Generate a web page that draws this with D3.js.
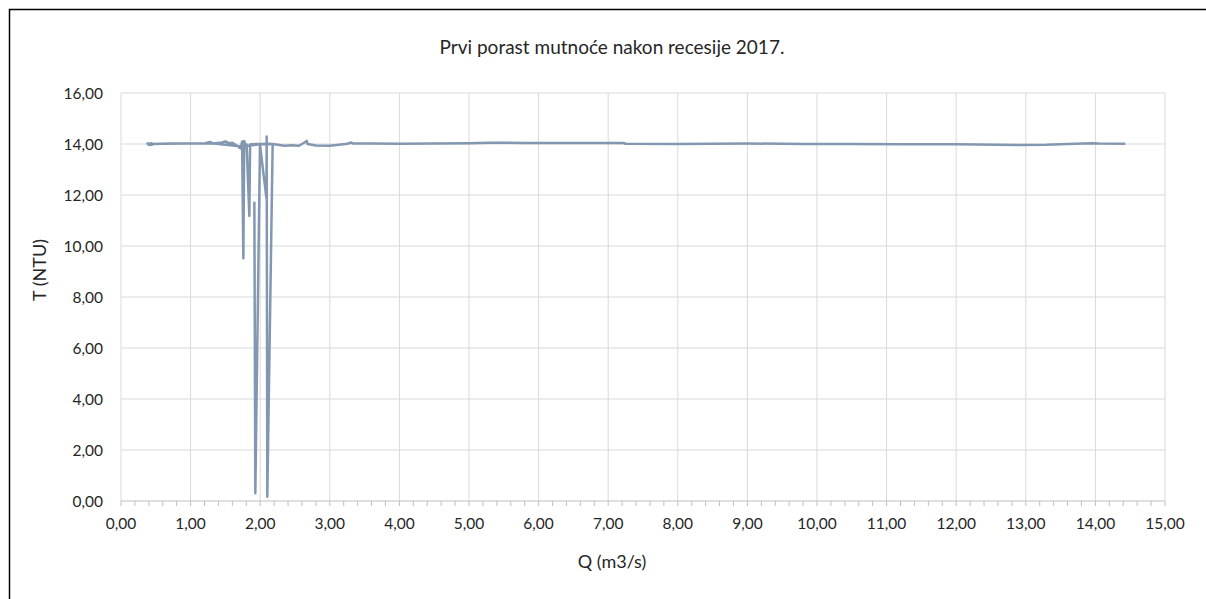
<!DOCTYPE html>
<html>
<head>
<meta charset="utf-8">
<script src="https://cdn.jsdelivr.net/npm/d3@7"></script>
<style>
  body { margin: 0; background: #fff; }
  text { font-family: Lato, "Open Sans", sans-serif; fill: #262626; }
</style>
</head>
<body>
<script>
// Q (m3/s) and T (NTU), in drawing order
var qValues = [1.916, 1.930, 1.997, 2.090, 2.093, 2.102, 2.179, 2.150, 1.950, 1.870, 1.855, 1.844, 1.805,
  1.790, 1.770, 1.758, 1.740, 1.720, 1.700, 1.680, 1.650, 1.600, 1.550, 1.500, 1.450, 1.320, 1.280,
  1.200, 0.900, 0.600, 0.470, 0.420, 0.440, 0.400, 0.380, 0.450, 0.700, 1.000, 1.300, 1.600, 1.750,
  2.000, 2.180, 2.250, 2.350, 2.450, 2.550, 2.600, 2.670, 2.680, 2.800, 3.000, 3.100, 3.250, 3.310,
  3.330, 3.600, 4.000, 4.500, 5.000, 5.300, 5.800, 6.500, 7.220, 7.250, 8.000, 9.000, 9.800, 10.500,
  11.200, 12.000, 12.900, 13.300, 13.600, 13.950, 14.050, 14.430];
var tValues = [11.74, 0.30, 13.96, 11.87, 14.29, 0.17, 13.98, 14.00, 14.00, 13.99, 13.98, 11.18, 13.98,
  13.95, 14.12, 9.52, 14.10, 13.82, 13.86, 13.92, 13.96, 14.05, 14.03, 14.10, 14.06, 14.02, 14.08,
  14.02, 14.02, 14.01, 14.00, 13.96, 14.03, 13.97, 14.02, 14.00, 14.02, 14.02, 14.03, 13.94, 13.90,
  13.99, 14.00, 13.97, 13.93, 13.95, 13.93, 14.00, 14.12, 14.00, 13.94, 13.93, 13.96, 14.01, 14.06,
  14.02, 14.02, 14.01, 14.02, 14.03, 14.05, 14.04, 14.04, 14.04, 14.01, 14.00, 14.02, 14.00, 14.00,
  13.99, 13.99, 13.96, 13.97, 14.00, 14.03, 14.02, 14.01];

var xTicks = d3.range(0, 16, 1);
var yTicks = d3.range(0, 18, 2);
var title = "Prvi porast mutnoće nakon recesije 2017.";
var xTitle = "Q (m3/s)";
var yTitle = "T (NTU)";

var points = qValues.map(function (q, i) { return { q: q, t: tValues[i] }; });

var W = 1206, H = 599;
var margin = { top: 93, right: 41, bottom: 98, left: 121 },
    width = W - margin.left - margin.right,
    height = H - margin.top - margin.bottom;

var fmt = function (d) { return d3.format(".2f")(d).replace(".", ","); };

var svg = d3.select("body").append("svg")
    .attr("width", W)
    .attr("height", H);

svg.append("rect")
    .attr("x", 9.5).attr("y", 9.5)
    .attr("width", W + 20).attr("height", H + 20)
    .attr("fill", "#fff")
    .attr("stroke", "#000")
    .attr("stroke-width", 1.5);

var g = svg.append("g")
    .attr("transform", "translate(" + margin.left + "," + margin.top + ")");

var x = d3.scaleLinear().domain([0, 15]).range([0, width]);
var y = d3.scaleLinear().domain([0, 16]).range([height, 0]);

// grid
g.append("g").selectAll("line")
    .data(xTicks.slice(1))
    .enter().append("line")
    .attr("x1", function (d) { return x(d); })
    .attr("x2", function (d) { return x(d); })
    .attr("y1", 0).attr("y2", height)
    .attr("stroke", "#d9d9d9");

g.append("g").selectAll("line")
    .data(yTicks.slice(1))
    .enter().append("line")
    .attr("x1", 0).attr("x2", width)
    .attr("y1", function (d) { return y(d); })
    .attr("y2", function (d) { return y(d); })
    .attr("stroke", "#d9d9d9");

// y axis line (light)
g.append("line")
    .attr("x1", 0).attr("x2", 0)
    .attr("y1", 0).attr("y2", height)
    .attr("stroke", "#d9d9d9");

// x axis with minor ticks
var xAxis = g.append("g")
    .attr("transform", "translate(0," + height + ")");

xAxis.append("line")
    .attr("x1", 0).attr("x2", width)
    .attr("stroke", "#bfbfbf");

xAxis.selectAll(".minor")
    .data(d3.range(0, 75.5, 1).map(function (d) { return d / 5; }))
    .enter().append("line")
    .attr("class", "minor")
    .attr("x1", function (d) { return x(d); })
    .attr("x2", function (d) { return x(d); })
    .attr("y1", 0).attr("y2", 5)
    .attr("stroke", "#bfbfbf");

xAxis.selectAll(".lab")
    .data(xTicks)
    .enter().append("text")
    .attr("class", "lab")
    .attr("x", function (d) { return x(d); })
    .attr("y", 28)
    .attr("text-anchor", "middle")
    .style("font-size", "15.5px")
    .text(fmt);

g.append("g").selectAll("text")
    .data(yTicks)
    .enter().append("text")
    .attr("x", -18)
    .attr("y", function (d) { return y(d) + 5.5; })
    .attr("text-anchor", "end")
    .style("font-size", "15.5px")
    .text(fmt);

// series
var line = d3.line()
    .x(function (d) { return x(d.q); })
    .y(function (d) { return y(d.t); });

g.append("path")
    .datum(points)
    .attr("d", line)
    .attr("fill", "none")
    .attr("stroke", "#8497b0")
    .attr("stroke-width", 2.5)
    .attr("stroke-linejoin", "round");

// titles
svg.append("text")
    .attr("x", 612).attr("y", 54)
    .attr("text-anchor", "middle")
    .style("font-size", "19px")
    .text(title);

svg.append("text")
    .attr("x", 612).attr("y", 568)
    .attr("text-anchor", "middle")
    .style("font-size", "18px")
    .text(xTitle);

svg.append("text")
    .attr("transform", "translate(46,270) rotate(-90)")
    .attr("text-anchor", "middle")
    .style("font-size", "18px")
    .text(yTitle);
</script>
</body>
</html>
